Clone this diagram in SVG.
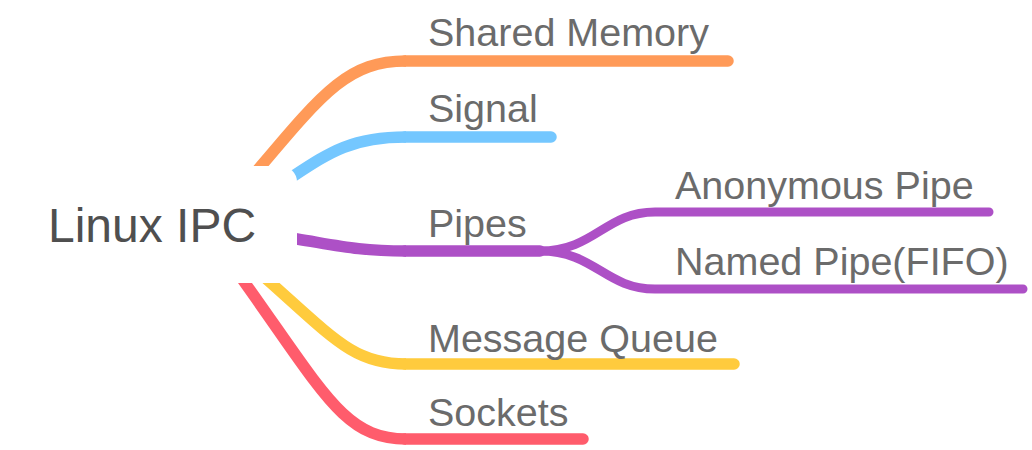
<svg xmlns="http://www.w3.org/2000/svg" width="1032" height="450" viewBox="0 0 1032 450">
<style>
.br{fill:none;stroke-width:11.5;stroke-linecap:round}
.st{stroke-linecap:butt}
.sub{fill:none;stroke-width:9;stroke-linecap:round}
.lbl{font-family:"Liberation Sans",Arial,sans-serif;font-size:39.5px;fill:#6b6b6b}
.root{font-family:"Liberation Sans",Arial,sans-serif;font-size:48px;fill:#4f4f4f}
</style>
<rect width="1032" height="450" fill="#ffffff"/>
<g id="connectors">
<path class="br" stroke="#ff9a58" d="M405 61 L728 61"/>
<path class="br st" stroke="#ff9a58" d="M236 196 L261 166 C325 90, 350 61, 406 61"/>
<path class="br" stroke="#74c7ff" d="M405 137 L551 137"/>
<path class="br st" stroke="#74c7ff" d="M262 197 L292 177 C330 152, 352 137, 406 137"/>
<path class="br" stroke="#ad50c6" d="M405 251 L540 251"/>
<path class="br st" stroke="#ad50c6" d="M267 234 L297 239 C340 246, 360 251, 406 251"/>
<path class="sub" stroke="#ad50c6" d="M540 251 C595 251, 605 212, 655 212 L989 212"/>
<path class="sub" stroke="#ad50c6" d="M540 251 C595 251, 605 289, 655 289 L1023 289"/>
<path class="br" stroke="#ffcb3d" d="M405 364 L734 364"/>
<path class="br st" stroke="#ffcb3d" d="M244 259 L271 283 C335 340, 355 364, 406 364"/>
<path class="br" stroke="#ff5c6c" d="M405 439 L583 439"/>
<path class="br st" stroke="#ff5c6c" d="M228 259 L245 283 C325 395, 345 439, 406 439"/>
</g>
<g id="root">
<rect x="10" y="166" width="287" height="117" rx="16" fill="#ffffff"/>
<text class="root" x="48" y="242">Linux IPC</text>
</g>
<g id="shared-memory"><text class="lbl" x="428" y="46">Shared Memory</text></g>
<g id="signal"><text class="lbl" x="428" y="122">Signal</text></g>
<g id="pipes"><text class="lbl" x="428" y="237">Pipes</text></g>
<g id="anonymous-pipe"><text class="lbl" x="675" y="199">Anonymous Pipe</text></g>
<g id="named-pipe"><text class="lbl" x="675" y="275">Named Pipe(FIFO)</text></g>
<g id="message-queue"><text class="lbl" x="428" y="352">Message Queue</text></g>
<g id="sockets"><text class="lbl" x="428" y="426">Sockets</text></g>
</svg>
